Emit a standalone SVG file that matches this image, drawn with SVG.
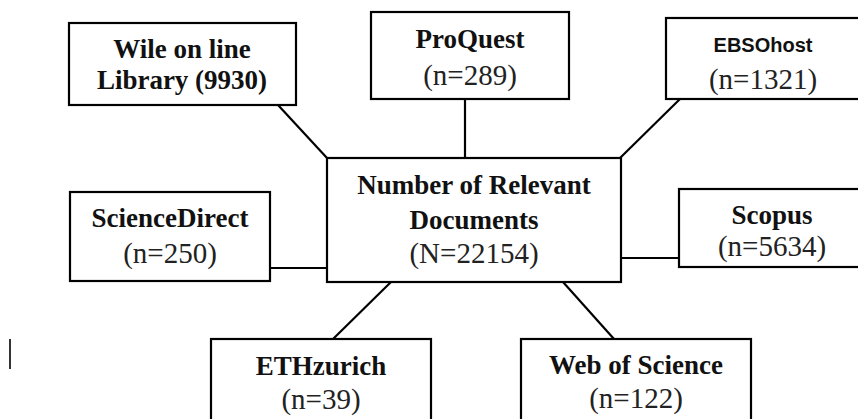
<svg xmlns="http://www.w3.org/2000/svg" width="858" height="419" viewBox="0 0 858 419">
<style>
.box{fill:#fff;stroke:#000;stroke-width:2.2}
.b{font-family:"Liberation Serif","Times New Roman",serif;font-weight:bold;font-size:27px;fill:#111;text-anchor:middle}
.r{font-family:"Liberation Serif","Times New Roman",serif;font-size:29px;fill:#222;text-anchor:middle}
.s{font-family:"Liberation Sans",Arial,sans-serif;font-weight:bold;font-size:20px;fill:#111;text-anchor:middle}
.c{stroke:#000;stroke-width:2.2;fill:none}
</style>
<rect width="858" height="419" fill="#fff"/>
<g id="connectors">
<line class="c" x1="278" y1="105" x2="327" y2="158"/>
<line class="c" x1="465" y1="99" x2="465" y2="158"/>
<line class="c" x1="680" y1="99" x2="620" y2="158"/>
<line class="c" x1="270" y1="268" x2="327" y2="268"/>
<line class="c" x1="621" y1="258" x2="679" y2="258"/>
<line class="c" x1="333" y1="339" x2="391" y2="282"/>
<line class="c" x1="563" y1="282" x2="614" y2="339"/>
</g>
<g id="wiley">
<rect class="box" x="69" y="23" width="227" height="82"/>
<text class="b" x="182" y="58">Wile on line</text>
<text class="b" x="182" y="89">Library (9930)</text>
</g>
<g id="proquest">
<rect class="box" x="371" y="12" width="198" height="87"/>
<text class="b" x="470" y="48">ProQuest</text>
<text class="r" x="470" y="85">(n=289)</text>
</g>
<g id="ebsco">
<rect class="box" x="666" y="18" width="200" height="81"/>
<text class="s" x="763" y="52">EBSOhost</text>
<text class="r" x="763" y="89">(n=1321)</text>
</g>
<g id="center">
<rect class="box" x="327" y="158" width="294" height="124"/>
<text class="b" x="474" y="194">Number of Relevant</text>
<text class="b" x="474" y="229">Documents</text>
<text class="r" x="474" y="263">(N=22154)</text>
</g>
<g id="sciencedirect">
<rect class="box" x="70" y="192" width="200" height="89"/>
<text class="b" x="170" y="227">ScienceDirect</text>
<text class="r" x="170" y="263">(n=250)</text>
</g>
<g id="scopus">
<rect class="box" x="679" y="189" width="190" height="78"/>
<text class="b" x="772" y="224">Scopus</text>
<text class="r" x="772" y="256">(n=5634)</text>
</g>
<g id="ethzurich">
<rect class="box" x="211" y="339" width="220" height="100"/>
<text class="b" x="321" y="375">ETHzurich</text>
<text class="r" x="321" y="409">(n=39)</text>
</g>
<g id="wos">
<rect class="box" x="521" y="339" width="230" height="100"/>
<text class="b" x="636" y="374">Web of Science</text>
<text class="r" x="636" y="408">(n=122)</text>
</g>
<line x1="10" y1="339" x2="10" y2="369" stroke="#333" stroke-width="2"/>
</svg>
